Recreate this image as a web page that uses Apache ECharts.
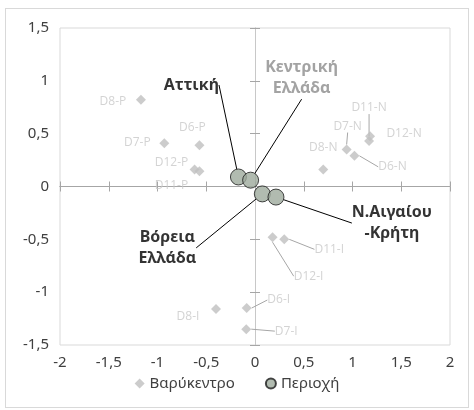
<!DOCTYPE html>
<html><head><meta charset="utf-8">
<script src="https://cdn.jsdelivr.net/npm/echarts@6/dist/echarts.min.js"></script>
<style>
html,body{margin:0;padding:0;background:#fff;}
#frame{position:absolute;left:5px;top:8px;width:464px;height:400px;border:1px solid #d9d9d9;box-sizing:border-box;}
#chart{position:absolute;left:0;top:0;width:474px;height:410px;}
</style></head>
<body>
<div id="frame"></div>
<div id="chart"></div>
<script>
// Data
const centroidNames = ['D6-P','D7-P','D8-P','D11-P','D12-P','D6-N','D7-N','D8-N','D11-N','D12-N','D6-I','D7-I','D8-I','D11-I','D12-I'];
const centroidX = [-0.57,-0.93,-1.17,-0.57,-0.62, 1.02,0.94,0.70,1.17,1.18, -0.085,-0.09,-0.40,0.30,0.18];
const centroidY = [0.39,0.41,0.82,0.145,0.16, 0.29,0.35,0.16,0.43,0.475, -1.15,-1.35,-1.16,-0.50,-0.48];
const regionNames = ['Αττική','Κεντρική\nΕλλάδα','Βόρεια\nΕλλάδα','Ν.Αιγαίου\n-Κρήτη'];
const regionX = [-0.17,-0.045,0.075,0.215];
const regionY = [0.09,0.06,-0.07,-0.10];

// Label placement (pixel offsets of labels from their marks)
const centroidLabelOffset = [[-7,-18],[-27,-1],[-28,2],[-28,14],[-23,-7],[38,11],[1,-23],[0,-22],[0,-33],[34,-3],[32,-8],[40,2],[-28,8],[45,10],[36,39]];
const centroidLeader = [false,false,false,false,false,true,true,false,true,false,true,true,false,true,true];
const regionLabelOffset = [[-47,-92],[51,-102],[-95,54],[116,26]];

const fmt = v => String(v).replace('.', ',');
const chart = echarts.init(document.getElementById('chart'));
const FONT = 'Noto Sans';
const G = {left:60, right:24, top:28, bottom:65};

function mkX(idx, showLabel, tickInside){
  return {type:'value', gridIndex:idx, min:-2, max:2, interval:0.5,
    axisLine:{show:!showLabel, onZero:!showLabel, lineStyle:{color:'#a6a6a6'}},
    axisTick:{show:!showLabel, inside:tickInside, length:5, lineStyle:{color:'#a6a6a6'}},
    axisLabel:{show:showLabel, formatter:fmt, color:'#404040', fontFamily:FONT, fontSize:15, margin:10},
    splitLine:{show:false}};
}
function mkY(idx, showLabel, tickInside){
  return {type:'value', gridIndex:idx, min:-1.5, max:1.5, interval:0.5,
    axisLine:{show:!showLabel, onZero:!showLabel, lineStyle:{color:'#c8c8c8'}},
    axisTick:{show:!showLabel, inside:tickInside, length:5, lineStyle:{color:'#a6a6a6'}},
    axisLabel:{show:showLabel, formatter:fmt, color:'#404040', fontFamily:FONT, fontSize:15, margin:11},
    splitLine:{show:false}};
}

const centroidData = centroidNames.map((n,i)=>({
  name:n, value:[centroidX[i], centroidY[i]],
  labelLine:{show:centroidLeader[i]}
}));
const regionData = regionNames.map((n,i)=>({
  name:n, value:[regionX[i], regionY[i]],
  label:{color: i===1 ? '#8c8c8c' : '#000'}
}));

chart.setOption({
  animation:false,
  grid:[
    Object.assign({show:true, borderColor:'#d9d9d9', borderWidth:1}, G),
    Object.assign({}, G),
    Object.assign({}, G)
  ],
  xAxis:[mkX(0,true,false), mkX(1,false,false), mkX(2,false,true)],
  yAxis:[mkY(0,true,false), mkY(1,false,false), mkY(2,false,true)],
  legend:{bottom:14, left:'center', itemGap:30, itemWidth:10, itemHeight:10,
    textStyle:{fontFamily:FONT, fontSize:15, color:'#404040'},
    data:['Βαρύκεντρο','Περιοχή']},
  series:[
    {name:'Βαρύκεντρο', type:'scatter', symbol:'diamond', symbolSize:10,
     itemStyle:{color:'#bfbfbf'}, z:3,
     data:centroidData,
     label:{show:true, position:'inside', formatter:'{b}', color:'#c8c8c8', fontFamily:'Open Sans', fontSize:12},
     labelLine:{lineStyle:{color:'#a6a6a6', width:1}},
     labelLayout:function(p){const o=centroidLabelOffset[p.dataIndex];return {dx:o[0], dy:o[1]};}
    },
    {name:'Περιοχή', type:'scatter', symbol:'circle', symbolSize:16,
     itemStyle:{color:'#9eaa9c', borderColor:'#1a1a1a', borderWidth:1}, z:5,
     data:regionData,
     label:{show:true, position:'inside', formatter:'{b}', fontFamily:FONT, fontWeight:'bold', fontSize:16, lineHeight:21, align:'center'},
     labelLine:{show:true, lineStyle:{color:'#000', width:1}},
     labelLayout:function(p){const o=regionLabelOffset[p.dataIndex];return {dx:o[0], dy:o[1]};}
    }
  ]
});
</script>
</body></html>
